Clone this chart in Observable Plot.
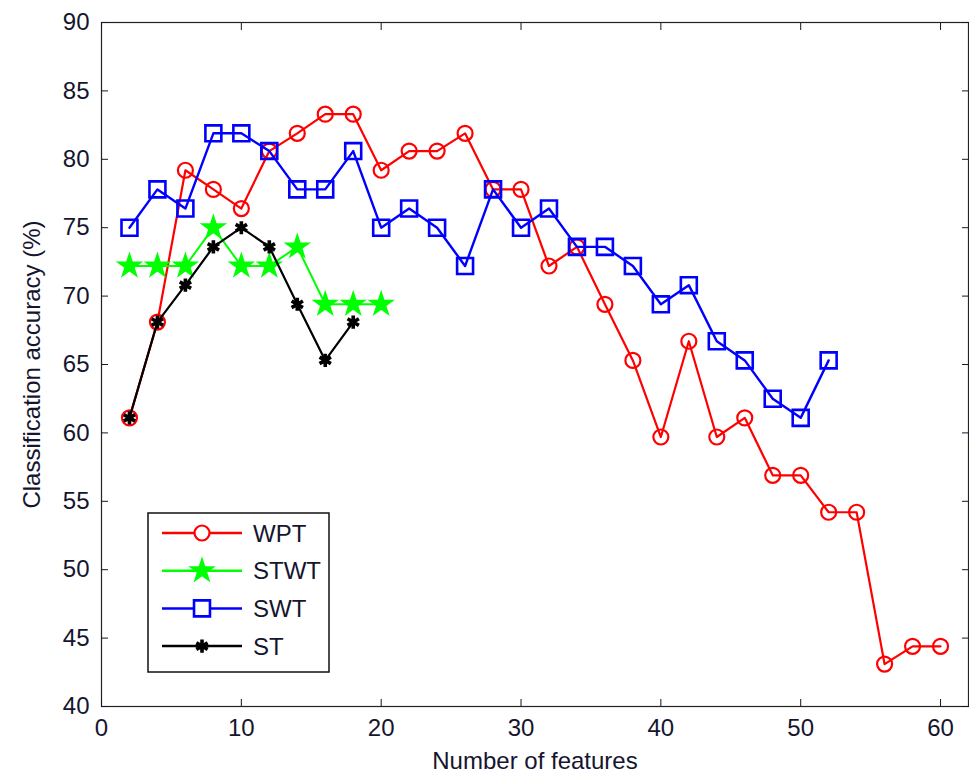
<!DOCTYPE html>
<html>
<head>
<meta charset="utf-8">
<script src="https://cdn.jsdelivr.net/npm/d3@7"></script>
<script src="https://cdn.jsdelivr.net/npm/@observablehq/plot@0.6"></script>
<style>
  body { margin: 0; background: #fff; }
  #wrap { position: relative; width: 969px; height: 782px; }
  #legend { position: absolute; left: 147px; top: 512px; }
</style>
</head>
<body>
<div id="wrap"></div>
<script>
// ---- data ----
const wptX  = [2, 4, 6, 8, 10, 12, 14, 16, 18, 20, 22, 24, 26, 28, 30, 32, 34, 36, 38, 40, 42, 44, 46, 48, 50, 52, 54, 56, 58, 60];
const wptY  = [61.1, 68.1, 79.2, 77.8, 76.4, 80.6, 81.9, 83.3, 83.3, 79.2, 80.6, 80.6, 81.9, 77.8, 77.8, 72.2, 73.6, 69.4, 65.3, 59.7, 66.7, 59.7, 61.1, 56.9, 56.9, 54.2, 54.2, 43.1, 44.4, 44.4];
const stwtX = [2, 4, 6, 8, 10, 12, 14, 16, 18, 20];
const stwtY = [72.2, 72.2, 72.2, 75.0, 72.2, 72.2, 73.6, 69.4, 69.4, 69.4];
const swtX  = [2, 4, 6, 8, 10, 12, 14, 16, 18, 20, 22, 24, 26, 28, 30, 32, 34, 36, 38, 40, 42, 44, 46, 48, 50, 52];
const swtY  = [75.0, 77.8, 76.4, 81.9, 81.9, 80.6, 77.8, 77.8, 80.6, 75.0, 76.4, 75.0, 72.2, 77.8, 75.0, 76.4, 73.6, 73.6, 72.2, 69.4, 70.8, 66.7, 65.3, 62.5, 61.1, 65.3];
const stX   = [2, 4, 6, 8, 10, 12, 14, 16, 18];
const stY   = [61.1, 68.1, 70.8, 73.6, 75.0, 73.6, 69.4, 65.3, 68.1];

const seriesNames = ["WPT", "STWT", "SWT", "ST"];
const xTicks = [0, 10, 20, 30, 40, 50, 60];
const yTicks = [40, 45, 50, 55, 60, 65, 70, 75, 80, 85, 90];
const xLabel = "Number of features";
const yLabel = "Classification accuracy (%)";

// ---- styles ----
const styles = {
  WPT:  {color: "#ff0000", symbol: "circle",   r: 7.5, fill: "none",    strokeWidth: 2.2, lineWidth: 2.2},
  STWT: {color: "#00ff00", symbol: "star",     r: 7.2, fill: "#00ff00", strokeWidth: 1.5, lineWidth: 2},
  SWT:  {color: "#0000ff", symbol: "square",   r: 9,   fill: "none",    strokeWidth: 2.6, lineWidth: 2.4},
  ST:   {color: "#000000", symbol: "asterisk", r: 6.2, fill: "none",    strokeWidth: 3.6, lineWidth: 2.2}
};
const xsBy = {WPT: wptX, STWT: stwtX, SWT: swtX, ST: stX};
const ysBy = {WPT: wptY, STWT: stwtY, SWT: swtY, ST: stY};
const dataBy = Object.fromEntries(seriesNames.map(n => [n, xsBy[n].map((x, i) => ({x, y: ysBy[n][i]}))]));

const FONT = "'Liberation Sans', Arial, sans-serif";
const TEXT = "#15152e";

const marks = [];
for (const n of seriesNames) {
  const s = styles[n];
  marks.push(Plot.line(dataBy[n], {x: "x", y: "y", stroke: s.color, strokeWidth: s.lineWidth}));
  marks.push(Plot.dot(dataBy[n], {x: "x", y: "y", symbol: () => s.symbol, r: s.r,
    stroke: s.color, fill: s.fill, strokeWidth: s.strokeWidth}));
}

const chart = Plot.plot({
  width: 969,
  height: 782,
  marginLeft: 101,
  marginRight: 1,
  marginTop: 22,
  marginBottom: 76,
  style: {fontFamily: FONT, fontSize: "24px", color: TEXT, background: "#fff"},
  x: {domain: [0, 62]},
  y: {domain: [40, 90]},
  symbol: {type: "identity"},
  marks: [
    ...marks,
    Plot.frame({stroke: "#222", strokeWidth: 1.2}),
    Plot.axisX({anchor: "bottom", ticks: xTicks, tickSize: -7, tickPadding: 19, fontSize: 24,
      label: xLabel, labelAnchor: "center", labelArrow: "none", labelOffset: 62}),
    Plot.axisX({anchor: "top", ticks: xTicks, tickSize: -7, tickFormat: () => null, label: null}),
    Plot.axisY({anchor: "left", ticks: yTicks, tickSize: -7, tickPadding: 19, fontSize: 24,
      label: yLabel, labelAnchor: "center", labelArrow: "none", labelOffset: 79}),
    Plot.axisY({anchor: "right", ticks: yTicks, tickSize: -7, tickFormat: () => null, label: null})
  ]
});
document.getElementById("wrap").appendChild(chart);

// ---- legend ----
const lw = 183, lh = 161;
const legend = d3.select("#wrap").append("svg")
  .attr("id", "legend").attr("width", lw).attr("height", lh)
  .style("font-family", FONT).style("font-size", "24px");
legend.append("rect").attr("x", 1).attr("y", 1).attr("width", lw - 2).attr("height", lh - 2)
  .attr("fill", "#fff").attr("stroke", "#111").attr("stroke-width", 1.5);
const symMap = {circle: d3.symbolCircle, star: d3.symbolStar, square: d3.symbolSquare, asterisk: d3.symbolAsterisk};
seriesNames.forEach((n, i) => {
  const s = styles[n];
  const cy = 21 + i * 37.7;
  const g = legend.append("g");
  g.append("line").attr("x1", 15).attr("x2", 95).attr("y1", cy).attr("y2", cy)
    .attr("stroke", s.color).attr("stroke-width", 2.5);
  g.append("path").attr("transform", `translate(55,${cy})`)
    .attr("d", d3.symbol(symMap[s.symbol], Math.PI * s.r * s.r)())
    .attr("fill", s.fill === "none" ? "#fff" : s.fill).attr("stroke", s.color).attr("stroke-width", s.strokeWidth);
  g.append("text").attr("x", 106).attr("y", cy).attr("dy", "0.36em").attr("fill", TEXT).text(n);
});
</script>
</body>
</html>
